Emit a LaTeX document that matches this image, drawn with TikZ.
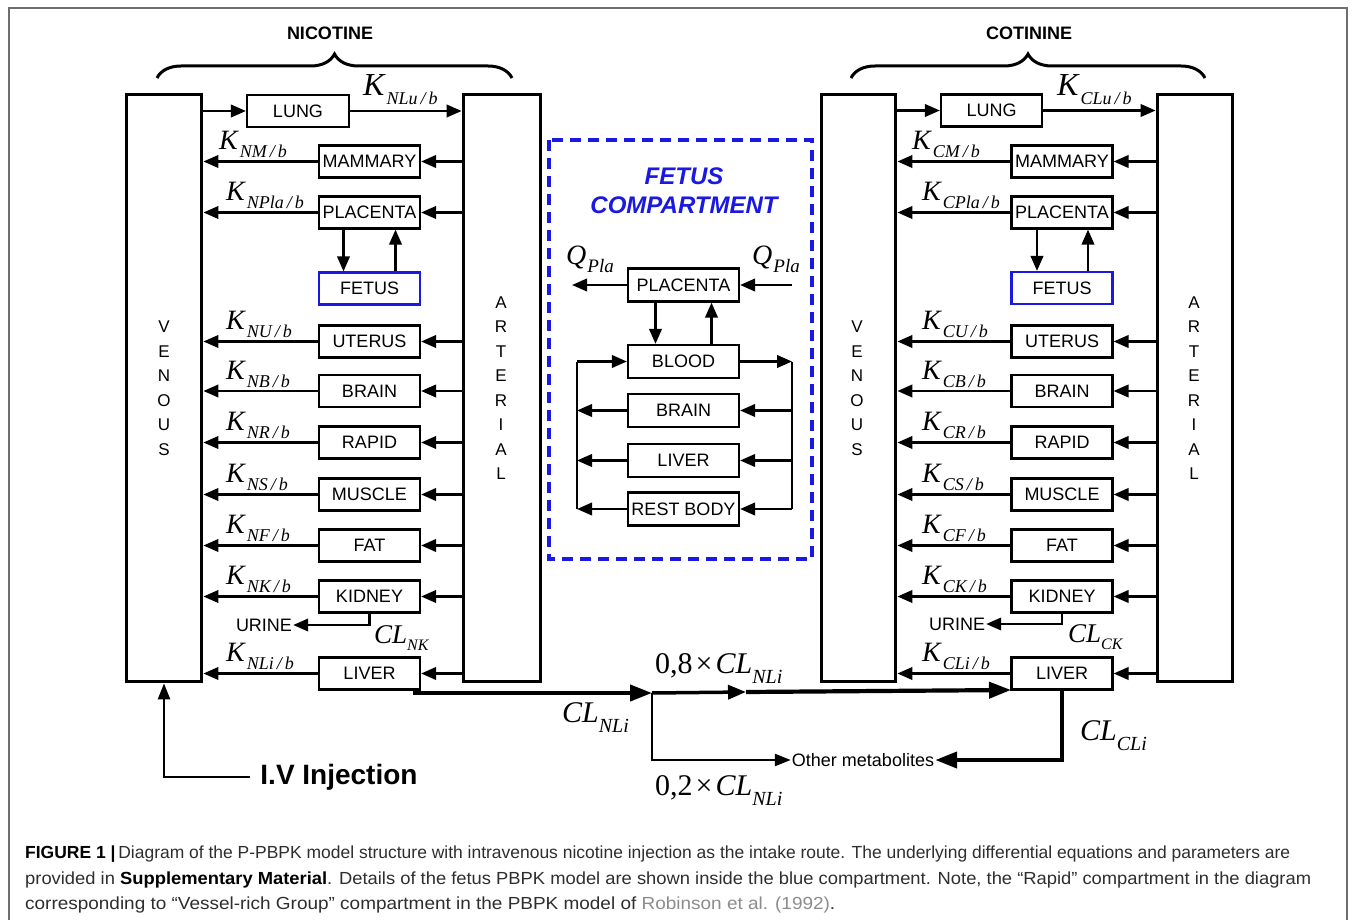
\documentclass[tikz,border=0pt]{standalone}
\usepackage{fontspec}
\usepackage{graphicx}
\setmainfont{Liberation Serif}
\setsansfont{Liberation Sans}
\usetikzlibrary{arrows.meta,decorations.pathreplacing,calc}
\definecolor{fblue}{RGB}{25,25,225}
\definecolor{framegray}{RGB}{110,110,110}
\definecolor{refgray}{RGB}{140,140,140}
\newcommand\sls{\,/\,}
\newcommand\Klab[1]{{\fontsize{28}{28}\selectfont\itshape K}\kern2pt\raisebox{-8pt}{\fontsize{18}{18}\selectfont\itshape #1}}
\newcommand\KlabL[1]{{\fontsize{32}{32}\selectfont\itshape K}\kern2pt\raisebox{-9pt}{\fontsize{18}{18}\selectfont\itshape #1}}
\newcommand\CLsm[2]{{\fontsize{27}{27}\selectfont\itshape CL}\raisebox{-7pt}{\fontsize{16}{16}\selectfont\itshape #1}}
\newcommand\CLbig[1]{{\fontsize{30}{30}\selectfont\itshape CL}\raisebox{-10pt}{\fontsize{20}{20}\selectfont\itshape #1}}
\newcommand\Qlab{{\fontsize{28}{28}\selectfont\itshape Q}\kern1pt\raisebox{-8pt}{\fontsize{19}{19}\selectfont\itshape Pla}}
\begin{document}
\begin{tikzpicture}[x=1pt,y=-1pt,
  organ/.style={draw, line width=2.2pt, fill=white, minimum width=101pt, minimum height=32pt, inner sep=0pt, font=\fontsize{18}{18}\selectfont\sffamily},
  ftbox/.style={organ, minimum width=111pt, minimum height=33pt},
  bigbox/.style={draw, line width=3.8pt, minimum height=587pt, inner sep=0pt},
  arr/.style={line width=2.3pt, -{Triangle[length=15pt,width=12.5pt]}},
  thk/.style={line width=4.2pt, -{Triangle[length=22pt,width=16pt]}},
  lett/.style={font=\fontsize{17}{24.5}\selectfont\sffamily, align=center, inner sep=0pt},
  lbl/.style={anchor=base west, inner sep=0pt},
  sansl/.style={font=\fontsize{18}{18}\selectfont\sffamily, inner sep=1pt},
  title/.style={font=\fontsize{18}{18}\selectfont\sffamily\bfseries, inner sep=0pt}
]
\useasboundingbox (0,0) rectangle (1355,920);
\fill[white] (0,0) rectangle (1355,920);
\draw[framegray, line width=1.3pt] (9,921) -- (9,8) -- (1347,8) -- (1347,921);

% ================= NICOTINE =================
\node[title] (nTitle) at (330,33) {NICOTINE};
\draw[line width=3pt, decorate, decoration={brace, amplitude=24pt}] (157,78) -- (512,78);
\node[bigbox, minimum width=75pt] (nV) at (164,388) {};
\node[bigbox, minimum width=77pt] (nA) at (502,388) {};
\node[lett] (nVt) at (164,388) {V\\E\\N\\O\\U\\S};
\node[lett] (nAt) at (501,388) {A\\R\\T\\E\\R\\I\\A\\L};

\node[organ, minimum width=102pt] (nLung) at (298,111) {LUNG};
\draw[arr] (nV.east |- nLung) -- (nLung.west);
\draw[arr] (nLung.east) -- (nLung.east -| nA.west);
\node[lbl] (nkLung) at (363,96) {\KlabL{NLu\sls b}};

\foreach \n/\y/\t/\s/\kx in {mam/161.5/MAMMARY/NM/219, pla/212.5/PLACENTA/NPla/226,
   ut/341.5/UTERUS/NU/226, br/391/BRAIN/NB/226, rap/442.5/RAPID/NR/226,
   mus/494.5/MUSCLE/NS/226, fat/545.5/FAT/NF/226, kid/596.5/KIDNEY/NK/226, liv/673.5/LIVER/NLi/226}{
  \node[organ] (n\n) at (369.5,\y) {\t};
  \draw[arr] (nA.west |- n\n) -- (n\n.east);
  \draw[arr] (n\n.west) -- (n\n.west -| nV.east);
  \node[lbl] (nk\n) at (\kx,{\y-12}) {\Klab{\s\sls b}};
}
\node[organ, draw=fblue] (nFet) at (369.5,288.5) {FETUS};
\draw[arr] ([xshift=-26pt]npla.south) -- ([xshift=-26pt]nFet.north);
\draw[arr] ([xshift=26pt]nFet.north) -- ([xshift=26pt]npla.south);

\node[sansl] (nUr) at (264,625) {URINE};
\draw[arr] (nkid.south) |- (nUr.east);
\node[lbl] (nCLk) at (374,643) {\CLsm{NK}{}};

% ================= FETUS COMPARTMENT =================
\draw[fblue, line width=4pt, dash pattern=on 11pt off 7pt] (549,140) rectangle (812,559);
\node[font=\fontsize{24}{29}\selectfont\sffamily\bfseries\itshape, text=fblue, align=center, inner sep=0pt] (fTitle) at (684,191) {FETUS\\COMPARTMENT};
\node[ftbox] (fPla) at (683.5,285) {PLACENTA};
\node[ftbox] (fBlo) at (683.5,361.5) {BLOOD};
\node[ftbox] (fBra) at (683.5,410.5) {BRAIN};
\node[ftbox] (fLiv) at (683.5,460.5) {LIVER};
\node[ftbox] (fRes) at (683.5,509) {REST BODY};
\coordinate (fL1) at (577,361.5);
\coordinate (fL4) at (577,509);
\coordinate (fR1) at (792,361.5);
\coordinate (fR4) at (792,509);
\coordinate (fQl) at (572,285);
\coordinate (fQr) at (792,285);
\draw[arr] (fPla.west) -- (fQl);
\draw[arr] (fQr) -- (fPla.east);
\node[lbl] (fQlt) at (566,265) {\Qlab};
\node[lbl] (fQrt) at (752,265) {\Qlab};
\draw[arr] ([xshift=-28pt]fPla.south) -- ([xshift=-28pt]fBlo.north);
\draw[arr] ([xshift=28pt]fBlo.north) -- ([xshift=28pt]fPla.south);
\draw[line width=2.3pt] (fL1) -- (fL4);
\draw[line width=2.3pt] (fR1) -- (fR4);
\draw[arr] (fL1) -- (fBlo.west);
\draw[arr] (fBlo.east) -- (fR1);
\foreach \b in {fBra,fLiv,fRes}{
  \draw[arr] (\b.west) -- (\b.west -| fL1);
  \draw[arr] (\b.east -| fR1) -- (\b.east);
}

% ================= COTININE =================
\node[title] (cTitle) at (1029,33) {COTININE};
\draw[line width=3pt, decorate, decoration={brace, amplitude=24pt}] (851,78) -- (1205,78);
\node[bigbox, minimum width=74pt] (cV) at (858.5,388) {};
\node[bigbox, minimum width=75pt] (cA) at (1195,388) {};
\node[lett] (cVt) at (857,388) {V\\E\\N\\O\\U\\S};
\node[lett] (cAt) at (1194,388) {A\\R\\T\\E\\R\\I\\A\\L};

\node[organ, minimum width=101pt] (cLung) at (991.5,110.5) {LUNG};
\draw[arr] (cV.east |- cLung) -- (cLung.west);
\draw[arr] (cLung.east) -- (cLung.east -| cA.west);
\node[lbl] (ckLung) at (1057,96) {\KlabL{CLu\sls b}};

\foreach \n/\y/\t/\s/\kx in {mam/161.5/MAMMARY/CM/912, pla/212.5/PLACENTA/CPla/922,
   ut/341.5/UTERUS/CU/922, br/391/BRAIN/CB/922, rap/442.5/RAPID/CR/922,
   mus/494.5/MUSCLE/CS/922, fat/545.5/FAT/CF/922, kid/596.5/KIDNEY/CK/922, liv/673.5/LIVER/CLi/922}{
  \node[organ] (c\n) at (1062,\y) {\t};
  \draw[arr] (cA.west |- c\n) -- (c\n.east);
  \draw[arr] (c\n.west) -- (c\n.west -| cV.east);
  \node[lbl] (ck\n) at (\kx,{\y-12}) {\Klab{\s\sls b}};
}
\node[organ, draw=fblue] (cFet) at (1062,288) {FETUS};
\draw[arr] ([xshift=-25pt]cpla.south) -- ([xshift=-25pt]cFet.north);
\draw[arr] ([xshift=26pt]cFet.north) -- ([xshift=26pt]cpla.south);

\node[sansl] (cUr) at (957,624) {URINE};
\draw[arr] (ckid.south) |- (cUr.east);
\node[lbl] (cCLk) at (1068,642) {\CLsm{CK}{}};

% ================= METABOLISM =================
\coordinate (nLout) at (413,693);
\coordinate (J) at (652,693);
\coordinate (M) at (746,692);
\coordinate (cLin) at (1011,690);
\draw[thk] (nLout) -- (J);
\draw[line width=3.5pt, -{Triangle[length=18pt,width=14pt]}] (J) -- (M);
\draw[thk] (M) -- (cLin);
\node[sansl] (oth) at (863,760) {Other metabolites};
\draw[line width=2.5pt, -{Triangle[length=16pt,width=12pt]}] (J) |- (oth.west);
\draw[thk] (cliv.south) |- (oth.east);

\node[lbl] (l08) at (655,673) {\fontsize{30}{30}\selectfont 0,8\hspace{3pt}×\hspace{3pt}\CLbig{NLi}};
\node[lbl] (lCL) at (562,722) {\CLbig{NLi}};
\node[lbl] (l02) at (655,795) {\fontsize{30}{30}\selectfont 0,2\hspace{3pt}×\hspace{3pt}\CLbig{NLi}};
\node[lbl] (lCC) at (1080,740) {\CLbig{CLi}};

% ================= IV =================
\node[font=\fontsize{28}{28}\selectfont\sffamily\bfseries, inner sep=2pt] (iv) at (339,777) {I.V Injection};
\draw[line width=2.5pt, -{Triangle[length=16pt,width=12pt]}] ([xshift=-8pt]iv.west) -| (nV.south);

% ================= CAPTION =================
\node[lbl, text=black!82, font=\fontsize{17.5}{17.5}\selectfont\sffamily] (cap1) at (25,858) {\resizebox{1265pt}{\height}{\textcolor{black}{\textbf{FIGURE 1 |}}\,Diagram of the P-PBPK model structure with intravenous nicotine injection as the intake route. The underlying differential equations and parameters are}};
\node[lbl, text=black!82, font=\fontsize{17.5}{17.5}\selectfont\sffamily] (cap2) at (25,884) {\resizebox{1286pt}{\height}{provided in \textcolor{black}{\textbf{Supplementary Material}}. Details of the fetus PBPK model are shown inside the blue compartment. Note, the “Rapid” compartment in the diagram}};
\node[lbl, text=black!82, font=\fontsize{17.5}{17.5}\selectfont\sffamily] (cap3) at (25,909) {\resizebox{810pt}{\height}{corresponding to “Vessel-rich Group” compartment in the PBPK model of \textcolor{refgray}{Robinson et al. (1992)}.}};
\end{tikzpicture}
\end{document}
